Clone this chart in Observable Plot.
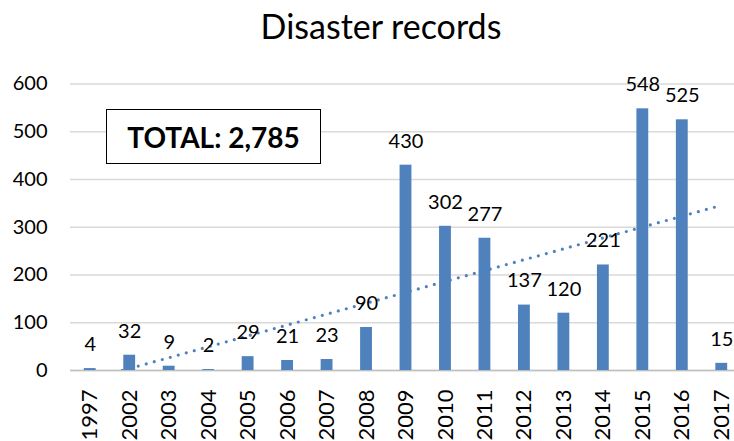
<!DOCTYPE html>
<html>
<head>
<meta charset="utf-8">
<script src="https://cdn.jsdelivr.net/npm/d3@7"></script>
<script src="https://cdn.jsdelivr.net/npm/@observablehq/plot@0.6"></script>
<style>
  html, body { margin: 0; padding: 0; background: #fff; overflow: hidden; }
  #wrap { position: relative; width: 734px; height: 441px; font-family: Lato, "Open Sans", sans-serif; }
  #title { position: absolute; left: 0; top: 9px; width: 762px; text-align: center; font-size: 34px; line-height: 34px; color: #000; }
  #total { position: absolute; left: 106px; top: 109px; width: 213px; height: 53px; border: 1.5px solid #000;
           background: #fff; display: flex; align-items: center; justify-content: center;
           font-weight: bold; font-size: 28px; color: #000; }
  #chart { position: absolute; left: 0; top: 0; }
</style>
</head>
<body>
<div id="wrap">
  <div id="chart"></div>
  <div id="title"></div>
  <div id="total"></div>
</div>
<script>
const title = "Disaster records";
const years = ["1997","2002","2003","2004","2005","2006","2007","2008","2009","2010","2011","2012","2013","2014","2015","2016","2017"];
const values = [4, 32, 9, 2, 29, 21, 23, 90, 430, 302, 277, 137, 120, 221, 548, 525, 15];
const yTicks = [0, 100, 200, 300, 400, 500, 600];

const data = years.map((y, k) => ({i: k + 1, year: y, value: values[k]}));
const idx = data.map(d => d.i);
const blue = "#4F81BD";
const half = 0.15;

document.getElementById("title").textContent = title;
document.getElementById("total").textContent = "TOTAL: " + d3.format(",")(d3.sum(values));

const chart = Plot.plot({
  width: 734,
  height: 441,
  marginLeft: 70,
  marginRight: -7,
  marginTop: 83.5,
  marginBottom: 71,
  style: {fontFamily: "Lato, 'Open Sans', sans-serif", fontSize: "20px", color: "#000", background: "transparent"},
  x: {domain: [0.5, years.length + 0.5]},
  y: {domain: [0, 600]},
  marks: [
    Plot.gridY(yTicks, {stroke: "#d9d9d9", strokeOpacity: 1, strokeWidth: 1.5}),
    Plot.ruleY([0], {stroke: "#bfbfbf", strokeWidth: 1.5}),
    Plot.rectY(data, {x1: d => d.i - half, x2: d => d.i + half, y: "value", fill: blue}),
    Plot.linearRegressionY(data, {x: "i", y: "value", ci: 0, stroke: blue, strokeWidth: 3.2,
      strokeDasharray: "0 8.3", strokeLinecap: "round", clip: true}),
    Plot.text(data, {x: "i", y: "value", text: d => String(d.value), dy: -24, fontSize: 20, fill: "#000", lineAnchor: "middle"}),
    Plot.axisY(yTicks, {tickSize: 0, tickPadding: 23, fontSize: 20, label: null}),
    Plot.axisX(idx, {tickFormat: i => years[i - 1], tickRotate: -90, tickSize: 0, tickPadding: 19, fontSize: 22, label: null})
  ]
});
document.getElementById("chart").appendChild(chart);
</script>
</body>
</html>
